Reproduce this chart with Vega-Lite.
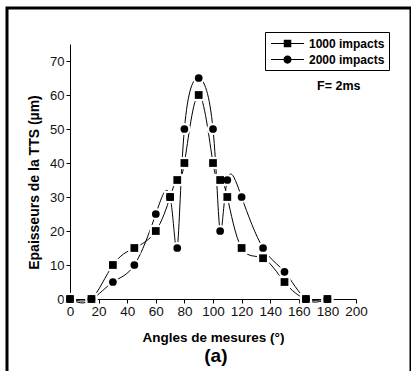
{
  "$schema": "https://vega.github.io/schema/vega-lite/v6.json",
  "width": 404,
  "height": 400,
  "autosize": "none",
  "padding": {"left": 7, "top": 8, "right": 0, "bottom": 0},
  "background": "white",
  "config": {
    "view": {"stroke": "black", "strokeWidth": 3},
    "font": "Liberation Sans",
    "axis": {"grid": false, "zindex": 1, "domainColor": "black", "tickColor": "black", "labelColor": "#111", "titleColor": "black", "labelFont": "Liberation Sans", "titleFont": "Liberation Sans"}
  },
  "datasets": {
    "tts": [
      {"series": "1000 impacts", "angle": 0, "ep": 0},
      {"series": "1000 impacts", "angle": 15, "ep": 0},
      {"series": "1000 impacts", "angle": 30, "ep": 10},
      {"series": "1000 impacts", "angle": 45, "ep": 15},
      {"series": "1000 impacts", "angle": 60, "ep": 20},
      {"series": "1000 impacts", "angle": 70, "ep": 30},
      {"series": "1000 impacts", "angle": 75, "ep": 35},
      {"series": "1000 impacts", "angle": 80, "ep": 40},
      {"series": "1000 impacts", "angle": 90, "ep": 60},
      {"series": "1000 impacts", "angle": 100, "ep": 40},
      {"series": "1000 impacts", "angle": 105, "ep": 35},
      {"series": "1000 impacts", "angle": 110, "ep": 30},
      {"series": "1000 impacts", "angle": 120, "ep": 15},
      {"series": "1000 impacts", "angle": 135, "ep": 12},
      {"series": "1000 impacts", "angle": 150, "ep": 5},
      {"series": "1000 impacts", "angle": 165, "ep": 0},
      {"series": "1000 impacts", "angle": 180, "ep": 0},
      {"series": "2000 impacts", "angle": 0, "ep": 0},
      {"series": "2000 impacts", "angle": 15, "ep": 0},
      {"series": "2000 impacts", "angle": 30, "ep": 5},
      {"series": "2000 impacts", "angle": 45, "ep": 10},
      {"series": "2000 impacts", "angle": 60, "ep": 25},
      {"series": "2000 impacts", "angle": 70, "ep": 30},
      {"series": "2000 impacts", "angle": 75, "ep": 15},
      {"series": "2000 impacts", "angle": 80, "ep": 50},
      {"series": "2000 impacts", "angle": 90, "ep": 65},
      {"series": "2000 impacts", "angle": 100, "ep": 50},
      {"series": "2000 impacts", "angle": 105, "ep": 20},
      {"series": "2000 impacts", "angle": 110, "ep": 35},
      {"series": "2000 impacts", "angle": 120, "ep": 30},
      {"series": "2000 impacts", "angle": 135, "ep": 15},
      {"series": "2000 impacts", "angle": 150, "ep": 8},
      {"series": "2000 impacts", "angle": 165, "ep": 0},
      {"series": "2000 impacts", "angle": 180, "ep": 0}
    ]
  },
  "layer": [
    {
      "data": {"name": "tts"},
      "mark": {"type": "line", "interpolate": "natural", "color": "black", "strokeWidth": 1},
      "encoding": {
        "x": {
          "field": "angle", "type": "quantitative",
          "scale": {"domain": [0, 200], "range": [63, 349], "nice": false, "zero": false},
          "axis": {
            "orient": "bottom", "offset": -109,
            "values": [0,10,20,30,40,50,60,70,80,90,100,110,120,130,140,150,160,170,180,190,200],
            "labelExpr": "datum.value % 20 === 0 ? datum.label : ''",
            "tickSize": {"condition": {"test": "datum.value % 20 === 0", "value": 4}, "value": 2},
            "labelFontSize": 13.5, "labelPadding": 1, "labelFlush": false, "labelOverlap": false,
            "title": "Angles de mesures (°)", "titleFontSize": 13.5, "titleFontWeight": "bold",
            "titleX": 206, "titleY": 42, "titleBaseline": "alphabetic", "titleAnchor": "middle"
          }
        },
        "y": {
          "field": "ep", "type": "quantitative",
          "scale": {"domain": [0, 75], "range": [291, 36], "nice": false, "zero": false},
          "axis": {
            "orient": "left", "offset": -63,
            "values": [0,5,10,15,20,25,30,35,40,45,50,55,60,65,70],
            "labelExpr": "datum.value % 10 === 0 ? datum.label : ''",
            "tickSize": {"condition": {"test": "datum.value % 10 === 0", "value": 4}, "value": 2},
            "labelFontSize": 13, "labelPadding": 2, "labelFlush": false, "labelOverlap": false,
            "title": "Epaisseurs de la TTS (µm)", "titleFontSize": 14, "titleFontWeight": "bold",
            "titleX": -36, "titleY": 174, "titleBaseline": "middle", "titleAngle": -90, "titleAnchor": "middle"
          }
        },
        "detail": {"field": "series"}
      }
    },
    {
      "data": {"name": "tts"},
      "mark": {"type": "point", "filled": true, "color": "white", "opacity": 1, "size": 150},
      "encoding": {
        "x": {"field": "angle", "type": "quantitative", "scale": {"domain": [0, 200], "range": [63, 349], "nice": false, "zero": false}},
        "y": {"field": "ep", "type": "quantitative", "scale": {"domain": [0, 75], "range": [291, 36], "nice": false, "zero": false}},
        "shape": {"field": "series", "type": "nominal", "scale": {"domain": ["1000 impacts", "2000 impacts"], "range": ["square", "circle"]}, "legend": null}
      }
    },
    {
      "data": {"name": "tts"},
      "mark": {"type": "point", "filled": true, "color": "black", "opacity": 1, "size": 60},
      "encoding": {
        "x": {"field": "angle", "type": "quantitative", "scale": {"domain": [0, 200], "range": [63, 349], "nice": false, "zero": false}},
        "y": {"field": "ep", "type": "quantitative", "scale": {"domain": [0, 75], "range": [291, 36], "nice": false, "zero": false}},
        "shape": {
          "field": "series", "type": "nominal",
          "scale": {"domain": ["1000 impacts", "2000 impacts"], "range": ["square", "circle"]},
          "legend": null
        }
      }
    },
    {
      "data": {"name": "tts"},
      "mark": {"type": "point", "filled": true, "fill": "black", "opacity": 0, "size": 1},
      "encoding": {
        "x": {"field": "angle", "type": "quantitative", "scale": {"domain": [0, 200], "range": [63, 349], "nice": false, "zero": false}},
        "y": {"field": "ep", "type": "quantitative", "scale": {"domain": [0, 75], "range": [291, 36], "nice": false, "zero": false}},
        "shape": {
          "field": "series", "type": "nominal",
          "scale": {"domain": ["1000 impacts", "2000 impacts"], "range": ["M-0.73,-0.07H3.67V0.07H-0.73ZM0.97,-0.5H1.97V0.5H0.97Z", "M-0.73,-0.07H3.67V0.07H-0.73ZM2.02,0A0.55,0.55,0,1,1,0.92,0A0.55,0.55,0,1,1,2.02,0Z"]},
          "legend": {
            "orient": "none", "legendX": 258, "legendY": 24, "title": null,
            "strokeColor": "black", "padding": 4, "rowPadding": 2, "columnPadding": 0,
            "symbolSize": 225, "symbolFillColor": "black", "symbolStrokeColor": "transparent", "symbolStrokeWidth": 0, "symbolOpacity": 1,
            "symbolOffset": 0, "labelOffset": 25,
            "labelFont": "Liberation Sans", "labelFontWeight": "bold", "labelFontSize": 12, "labelColor": "black"
          }
        }
      }
    },
    {
      "data": {"values": [{"note": "F= 2ms"}]},
      "mark": {"type": "text", "fontWeight": "bold", "fontSize": 12.5, "font": "Liberation Sans", "fill": "black", "align": "center", "baseline": "middle"},
      "encoding": {
        "x": {"datum": 188, "type": "quantitative", "scale": {"domain": [0, 200], "range": [63, 349], "nice": false, "zero": false}},
        "y": {"datum": 62.6, "type": "quantitative", "scale": {"domain": [0, 75], "range": [291, 36], "nice": false, "zero": false}},
        "text": {"field": "note", "type": "nominal"}
      }
    },
    {
      "data": {"values": [{"note": "(a)"}]},
      "mark": {"type": "text", "fontWeight": "bold", "fontSize": 19, "font": "Liberation Sans", "fill": "black", "align": "center", "baseline": "alphabetic"},
      "encoding": {
        "x": {"datum": 102, "type": "quantitative", "scale": {"domain": [0, 200], "range": [63, 349], "nice": false, "zero": false}},
        "y": {"datum": -18.5, "type": "quantitative", "scale": {"domain": [0, 75], "range": [291, 36], "nice": false, "zero": false}},
        "text": {"field": "note", "type": "nominal"}
      }
    }
  ],
  "resolve": {"scale": {"shape": "independent"}}
}
